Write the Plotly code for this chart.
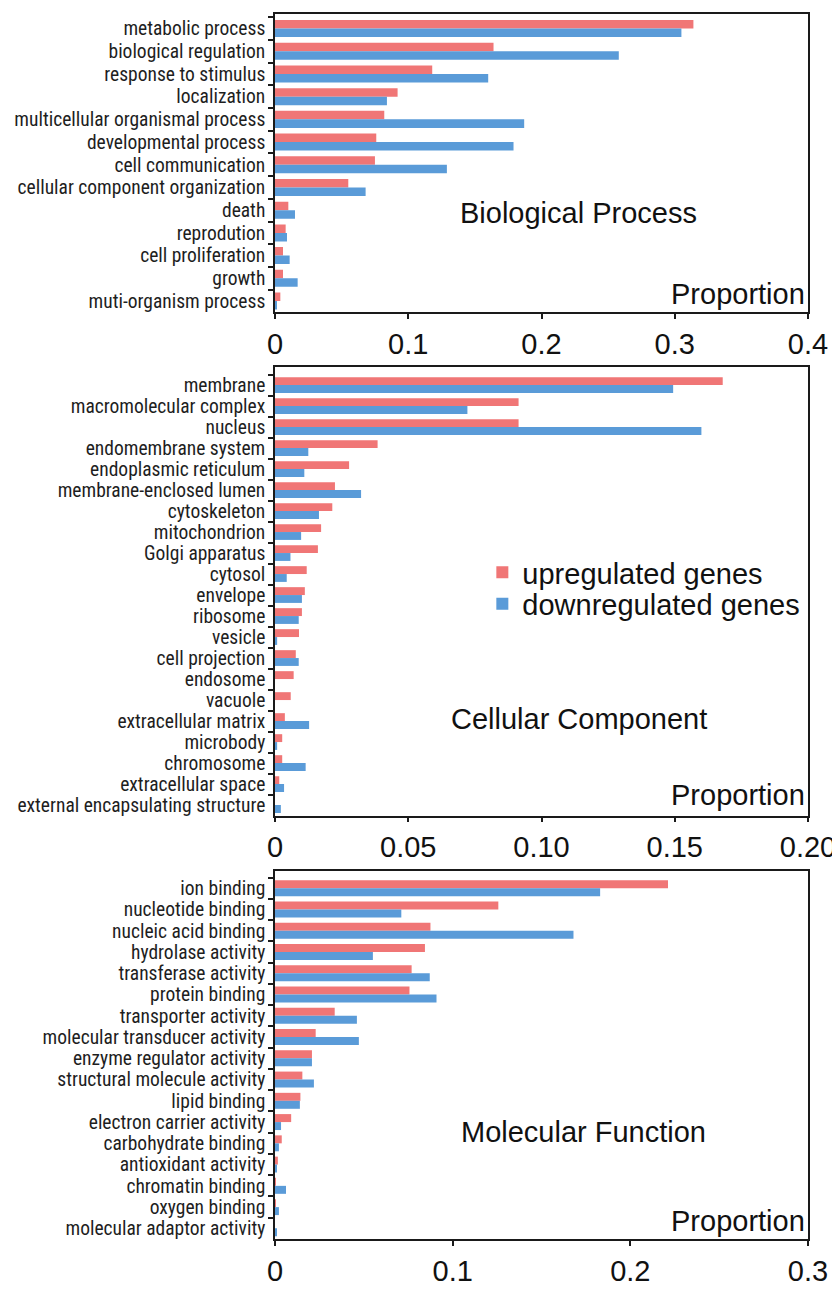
import plotly.graph_objects as go

# ---------------- data ----------------
bp_cats = ["metabolic process", "biological regulation", "response to stimulus", "localization",
           "multicellular organismal process", "developmental process", "cell communication",
           "cellular component organization", "death", "reprodution", "cell proliferation",
           "growth", "muti-organism process"]
bp_up = [0.314, 0.164, 0.118, 0.092, 0.082, 0.076, 0.075, 0.055, 0.010, 0.008, 0.006, 0.006, 0.004]
bp_down = [0.305, 0.258, 0.160, 0.084, 0.187, 0.179, 0.129, 0.068, 0.015, 0.009, 0.011, 0.017, 0.001]

cc_cats = ["membrane", "macromolecular complex", "nucleus", "endomembrane system",
           "endoplasmic reticulum", "membrane-enclosed lumen", "cytoskeleton", "mitochondrion",
           "Golgi apparatus", "cytosol", "envelope", "ribosome", "vesicle", "cell projection",
           "endosome", "vacuole", "extracellular matrix", "microbody", "chromosome",
           "extracellular space", "external encapsulating structure"]
cc_up = [0.168, 0.0914, 0.0914, 0.0385, 0.0278, 0.0225, 0.0215, 0.0173, 0.0161, 0.0119,
         0.0112, 0.0101, 0.0090, 0.0078, 0.0070, 0.0059, 0.0037, 0.0027, 0.0027, 0.0016, 0.0]
cc_down = [0.1494, 0.0722, 0.160, 0.0125, 0.0110, 0.0323, 0.0165, 0.0098, 0.0058, 0.0044,
           0.0101, 0.0089, 0.0008, 0.0089, 0.0, 0.0, 0.0128, 0.0008, 0.0115, 0.0034, 0.0022]

mf_cats = ["ion binding", "nucleotide binding", "nucleic acid binding", "hydrolase activity",
           "transferase activity", "protein binding", "transporter activity",
           "molecular transducer activity", "enzyme regulator activity",
           "structural molecule activity", "lipid binding", "electron carrier activity",
           "carbohydrate binding", "antioxidant activity", "chromatin binding",
           "oxygen binding", "molecular adaptor activity"]
mf_up = [0.2212, 0.1257, 0.0875, 0.0844, 0.0769, 0.0757, 0.0336, 0.0229, 0.0208, 0.0154,
         0.0143, 0.0091, 0.0038, 0.0016, 0.0004, 0.0003, 0.0]
mf_down = [0.183, 0.0711, 0.168, 0.0551, 0.0871, 0.0909, 0.0461, 0.0472, 0.0208, 0.0219,
           0.0140, 0.0034, 0.0022, 0.0007, 0.0062, 0.0022, 0.0008]

series_names = ["upregulated genes", "downregulated genes"]
panel_titles = ["Biological Process", "Cellular Component", "Molecular Function"]
axis_title = "Proportion"

bp_ticks = [0, 0.1, 0.2, 0.3, 0.4]
bp_ticktext = ["0", "0.1", "0.2", "0.3", "0.4"]
cc_ticks = [0, 0.05, 0.10, 0.15, 0.20]
cc_ticktext = ["0", "0.05", "0.10", "0.15", "0.20"]
mf_ticks = [0, 0.1, 0.2, 0.3]
mf_ticktext = ["0", "0.1", "0.2", "0.3"]

# ---------------- styles ----------------
RED = "#F07676"
BLUE = "#5A9BD8"
LABEL_FONT = "Liberation Sans Narrow, Arial Narrow, Roboto Condensed, Liberation Sans, Arial, sans-serif"
BIG_FONT = "Liberation Sans, Arial, sans-serif"
BIG = 29

fig = go.Figure()

panels = [
    (bp_cats, bp_up, bp_down, "x", "y"),
    (cc_cats, cc_up, cc_down, "x2", "y2"),
    (mf_cats, mf_up, mf_down, "x3", "y3"),
]
for i, (cats, up, down, xa, ya) in enumerate(panels):
    fig.add_trace(go.Bar(y=cats, x=up, orientation="h", name=series_names[0],
                         marker=dict(color=RED, line=dict(width=0)),
                         xaxis=xa, yaxis=ya, showlegend=(i == 0), legend="legend"))
    fig.add_trace(go.Bar(y=cats, x=down, orientation="h", name=series_names[1],
                         marker=dict(color=BLUE, line=dict(width=0)),
                         xaxis=xa, yaxis=ya, showlegend=(i == 0), legend="legend2"))

# page body has an 8px margin, so the figure is drawn offset by (8, 8)
OFF = 8
W, H = 840 - OFF, 1291 - OFF
ml, mr, mt, mb = 275 - OFF, 14, 12 - OFF, 35

def xaxis_cfg(rng, tv, tt, anchor):
    return dict(range=rng, tickvals=tv, ticktext=tt, anchor=anchor,
                showline=True, linecolor="#1a1a1a", linewidth=1.6, mirror=True,
                ticks="outside", ticklen=5, tickwidth=1.6, tickcolor="#1a1a1a",
                showgrid=False, zeroline=False, ticklabeloverflow="allow",
                tickfont=dict(family=BIG_FONT, size=BIG, color="#111"), fixedrange=True)

def yaxis_cfg(dom, rng, anchor):
    return dict(domain=dom, range=rng, type="category", anchor=anchor,
                tickmode="linear", tick0=0, dtick=1,
                showline=True, linecolor="#1a1a1a", linewidth=1.6, mirror=True,
                ticks="outside", ticklen=5, tickwidth=1.6, tickcolor="#1a1a1a",
                tickson="boundaries", showgrid=False, zeroline=False,
                ticklabelstandoff=4,
                tickfont=dict(family=LABEL_FONT, size=19.5, color="#1e1e1e"), fixedrange=True)

plot_h = H - mt - mb
def ydom(top_px, bottom_px):
    # px measured in page coordinates
    return [(H + OFF - mb - bottom_px) / plot_h, (H + OFF - mb - top_px) / plot_h]

def ypaper(p):
    return (H + OFF - mb - p) / plot_h

leg_common = dict(x=0.389, xanchor="left", yanchor="middle",
                  font=dict(family=BIG_FONT, size=BIG, color="#111"),
                  bgcolor="rgba(0,0,0,0)", itemwidth=30, borderwidth=0)

fig.update_layout(
    width=W, height=H,
    margin=dict(l=ml, r=mr, t=mt, b=mb),
    paper_bgcolor="white", plot_bgcolor="white",
    barmode="group", bargap=0.25, bargroupgap=0.0,
    xaxis=xaxis_cfg([0, 0.4], bp_ticks, bp_ticktext, "y"),
    yaxis=yaxis_cfg(ydom(12, 315), [len(bp_cats) - 0.5, -0.64], "x"),
    xaxis2=xaxis_cfg([0, 0.2], cc_ticks, cc_ticktext, "y2"),
    yaxis2=yaxis_cfg(ydom(370, 826), [len(cc_cats) - 0.5, -0.88], "x2"),
    xaxis3=xaxis_cfg([0, 0.3], mf_ticks, mf_ticktext, "y3"),
    yaxis3=yaxis_cfg(ydom(882.5, 1256), [len(mf_cats) - 0.5, -0.8], "x3"),
    legend=dict(y=ypaper(579), **leg_common),
    legend2=dict(y=ypaper(611), **leg_common),
    showlegend=True,
)

title_pos = [("x domain", "y domain", 0.57, 0.333), ("x2 domain", "y2 domain", 0.57, 0.215),
             ("x3 domain", "y3 domain", 0.579, 0.292)]
prop_pos = [0.06, 0.046, 0.049]
for k, (xr, yr, tx, ty) in enumerate(title_pos):
    fig.add_annotation(text=panel_titles[k], xref=xr, yref=yr, x=tx, y=ty,
                       xanchor="center", yanchor="middle", showarrow=False,
                       font=dict(family=BIG_FONT, size=BIG, color="#111"))
    fig.add_annotation(text=axis_title, xref=xr, yref=yr, x=0.998, y=prop_pos[k],
                       xanchor="right", yanchor="middle", showarrow=False,
                       font=dict(family=BIG_FONT, size=BIG, color="#111"))

fig.write_html("out.html")
